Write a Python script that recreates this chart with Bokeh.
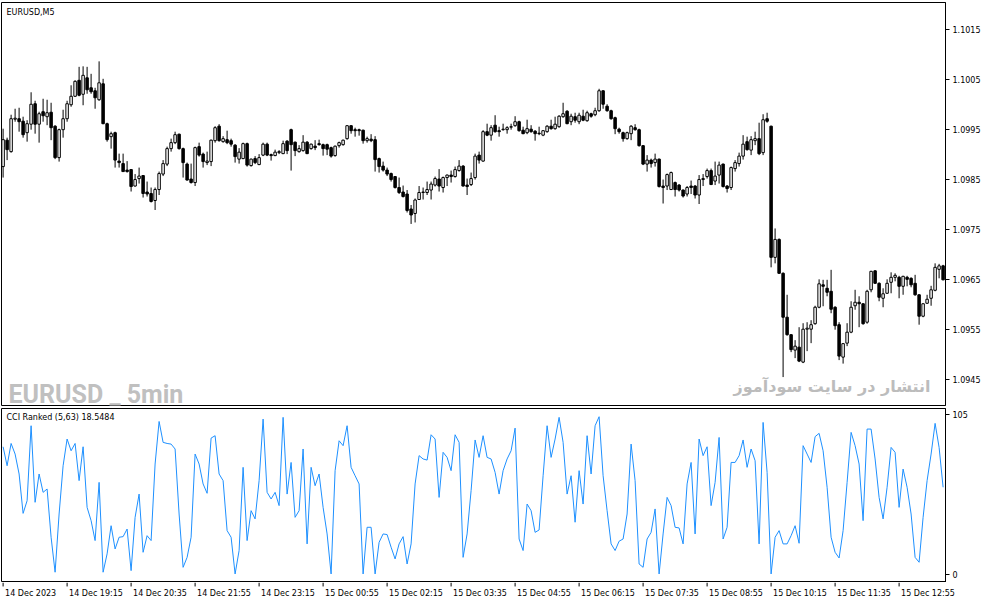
import numpy as np
from bokeh.plotting import figure
from bokeh.layouts import column
from bokeh.models import ColumnDataSource, Range1d, FixedTicker, Label, PrintfTickFormatter
from bokeh.core.properties import value
from bokeh.embed import file_html
from bokeh.resources import INLINE

# EURUSD M5 candles
opens = [1.09876, 1.09929, 1.09906, 1.09971, 1.09972, 1.09967, 1.09944, 1.09961, 1.10002, 1.09961,
         1.09986, 1.09976, 1.09985, 1.09957, 1.09894, 1.09950, 1.09972, 1.10000, 1.10017, 1.10049,
         1.10021, 1.10054, 1.10034, 1.10028, 1.10010, 1.10042, 1.09962, 1.09936, 1.09944, 1.09887,
         1.09882, 1.09869, 1.09870, 1.09837, 1.09852, 1.09858, 1.09825, 1.09822, 1.09808, 1.09830,
         1.09861, 1.09881, 1.09912, 1.09924, 1.09941, 1.09912, 1.09881, 1.09851, 1.09844, 1.09916,
         1.09901, 1.09884, 1.09886, 1.09928, 1.09957, 1.09926, 1.09930, 1.09928, 1.09919, 1.09891,
         1.09892, 1.09922, 1.09878, 1.09892, 1.09880, 1.09899, 1.09921, 1.09900, 1.09898, 1.09904,
         1.09902, 1.09927, 1.09950, 1.09925, 1.09906, 1.09908, 1.09925, 1.09912, 1.09917, 1.09922,
         1.09920, 1.09920, 1.09914, 1.09898, 1.09918, 1.09920, 1.09932, 1.09958, 1.09950, 1.09950,
         1.09949, 1.09928, 1.09931, 1.09930, 1.09892, 1.09877, 1.09869, 1.09862, 1.09856, 1.09834,
         1.09825, 1.09821, 1.09791, 1.09782, 1.09810, 1.09824, 1.09824, 1.09829, 1.09839, 1.09851,
         1.09834, 1.09854, 1.09859, 1.09856, 1.09868, 1.09877, 1.09839, 1.09840, 1.09854, 1.09899,
         1.09887, 1.09946, 1.09939, 1.09959, 1.09948, 1.09950, 1.09950, 1.09955, 1.09958, 1.09966,
         1.09949, 1.09944, 1.09951, 1.09947, 1.09943, 1.09939, 1.09946, 1.09957, 1.09952, 1.09956,
         1.09976, 1.09987, 1.09966, 1.09976, 1.09966, 1.09977, 1.09968, 1.09982, 1.09980, 1.09988,
         1.10028, 1.09997, 1.09988, 1.09974, 1.09951, 1.09944, 1.09932, 1.09942, 1.09954, 1.09950,
         1.09918, 1.09881, 1.09889, 1.09884, 1.09891, 1.09837, 1.09837, 1.09830, 1.09844, 1.09839,
         1.09829, 1.09821, 1.09837, 1.09837, 1.09819, 1.09850, 1.09856, 1.09868, 1.09847, 1.09859,
         1.09881, 1.09837, 1.09834, 1.09872, 1.09882, 1.09897, 1.09926, 1.09909, 1.09928, 1.09932,
         1.09904, 1.09972, 1.09957, 1.09694, 1.09730, 1.09662, 1.09574, 1.09539, 1.09508, 1.09514,
         1.09484, 1.09550, 1.09550, 1.09561, 1.09594, 1.09639, 1.09632, 1.09626, 1.09594, 1.09559,
         1.09494, 1.09522, 1.09544, 1.09597, 1.09604, 1.09601, 1.09564, 1.09629, 1.09667, 1.09642,
         1.09612, 1.09622, 1.09644, 1.09654, 1.09654, 1.09636, 1.09654, 1.09652, 1.09642, 1.09619,
         1.09576, 1.09602, 1.09612, 1.09628, 1.09670, 1.09677]
highs = [1.09952, 1.09934, 1.09980, 1.09992, 1.09994, 1.09976, 1.09969, 1.10025, 1.10008, 1.09986,
         1.10012, 1.10010, 1.10004, 1.09959, 1.09952, 1.09990, 1.10008, 1.10039, 1.10049, 1.10076,
         1.10077, 1.10076, 1.10062, 1.10034, 1.10087, 1.10052, 1.09964, 1.09946, 1.09946, 1.09902,
         1.09902, 1.09887, 1.09871, 1.09861, 1.09874, 1.09859, 1.09846, 1.09834, 1.09834, 1.09866,
         1.09889, 1.09916, 1.09932, 1.09946, 1.09942, 1.09914, 1.09884, 1.09882, 1.09916, 1.09924,
         1.09904, 1.09906, 1.09930, 1.09957, 1.09961, 1.09937, 1.09948, 1.09932, 1.09921, 1.09913,
         1.09924, 1.09924, 1.09892, 1.09897, 1.09901, 1.09924, 1.09924, 1.09902, 1.09910, 1.09909,
         1.09928, 1.09929, 1.09952, 1.09926, 1.09919, 1.09939, 1.09927, 1.09922, 1.09929, 1.09930,
         1.09922, 1.09922, 1.09916, 1.09918, 1.09926, 1.09930, 1.09959, 1.09959, 1.09954, 1.09952,
         1.09950, 1.09936, 1.09941, 1.09937, 1.09894, 1.09886, 1.09874, 1.09864, 1.09857, 1.09854,
         1.09838, 1.09829, 1.09799, 1.09812, 1.09837, 1.09834, 1.09846, 1.09846, 1.09856, 1.09871,
         1.09856, 1.09860, 1.09868, 1.09876, 1.09889, 1.09879, 1.09852, 1.09864, 1.09902, 1.09906,
         1.09949, 1.09962, 1.09959, 1.09979, 1.09956, 1.09962, 1.09957, 1.09962, 1.09977, 1.09968,
         1.09956, 1.09970, 1.09959, 1.09949, 1.09956, 1.09949, 1.09959, 1.09970, 1.09976, 1.09979,
         1.10004, 1.09989, 1.09982, 1.09984, 1.09984, 1.09990, 1.09988, 1.09984, 1.09994, 1.10032,
         1.10029, 1.10001, 1.09990, 1.09976, 1.09954, 1.09946, 1.09946, 1.09959, 1.09961, 1.09952,
         1.09919, 1.09899, 1.09892, 1.09902, 1.09892, 1.09850, 1.09862, 1.09866, 1.09846, 1.09841,
         1.09830, 1.09837, 1.09848, 1.09839, 1.09859, 1.09861, 1.09872, 1.09872, 1.09886, 1.09886,
         1.09882, 1.09839, 1.09876, 1.09889, 1.09904, 1.09939, 1.09936, 1.09937, 1.09946, 1.09964,
         1.09981, 1.09984, 1.09958, 1.09752, 1.09732, 1.09664, 1.09619, 1.09540, 1.09528, 1.09554,
         1.09562, 1.09564, 1.09568, 1.09597, 1.09650, 1.09649, 1.09649, 1.09669, 1.09596, 1.09564,
         1.09522, 1.09562, 1.09606, 1.09629, 1.09616, 1.09602, 1.09629, 1.09667, 1.09668, 1.09644,
         1.09632, 1.09650, 1.09664, 1.09662, 1.09657, 1.09657, 1.09657, 1.09654, 1.09659, 1.09620,
         1.09602, 1.09619, 1.09637, 1.09682, 1.09681, 1.09679]
lows = [1.09854, 1.09889, 1.09904, 1.09966, 1.09946, 1.09934, 1.09926, 1.09950, 1.09942, 1.09924,
        1.09966, 1.09959, 1.09929, 1.09891, 1.09886, 1.09934, 1.09966, 1.09996, 1.10016, 1.10017,
        1.09999, 1.10022, 1.10022, 1.09992, 1.10008, 1.09961, 1.09926, 1.09912, 1.09874, 1.09874,
        1.09866, 1.09864, 1.09826, 1.09836, 1.09842, 1.09814, 1.09816, 1.09804, 1.09789, 1.09819,
        1.09857, 1.09877, 1.09906, 1.09921, 1.09910, 1.09854, 1.09848, 1.09842, 1.09837, 1.09896,
        1.09874, 1.09879, 1.09877, 1.09924, 1.09926, 1.09924, 1.09921, 1.09916, 1.09884, 1.09882,
        1.09891, 1.09876, 1.09876, 1.09881, 1.09879, 1.09897, 1.09897, 1.09888, 1.09897, 1.09901,
        1.09901, 1.09901, 1.09868, 1.09897, 1.09904, 1.09906, 1.09901, 1.09910, 1.09909, 1.09918,
        1.09898, 1.09899, 1.09894, 1.09896, 1.09914, 1.09918, 1.09930, 1.09942, 1.09936, 1.09938,
        1.09922, 1.09924, 1.09925, 1.09866, 1.09864, 1.09866, 1.09857, 1.09846, 1.09832, 1.09821,
        1.09814, 1.09784, 1.09761, 1.09764, 1.09809, 1.09810, 1.09819, 1.09810, 1.09836, 1.09826,
        1.09824, 1.09837, 1.09844, 1.09854, 1.09866, 1.09836, 1.09819, 1.09837, 1.09850, 1.09882,
        1.09886, 1.09937, 1.09928, 1.09944, 1.09936, 1.09948, 1.09942, 1.09950, 1.09956, 1.09946,
        1.09941, 1.09941, 1.09944, 1.09928, 1.09939, 1.09937, 1.09944, 1.09950, 1.09950, 1.09954,
        1.09974, 1.09961, 1.09959, 1.09964, 1.09961, 1.09967, 1.09966, 1.09974, 1.09977, 1.09986,
        1.09992, 1.09986, 1.09970, 1.09941, 1.09942, 1.09926, 1.09930, 1.09929, 1.09948, 1.09916,
        1.09879, 1.09866, 1.09874, 1.09876, 1.09834, 1.09802, 1.09829, 1.09829, 1.09816, 1.09826,
        1.09814, 1.09816, 1.09821, 1.09812, 1.09801, 1.09837, 1.09852, 1.09839, 1.09839, 1.09842,
        1.09834, 1.09824, 1.09829, 1.09866, 1.09876, 1.09890, 1.09908, 1.09899, 1.09919, 1.09899,
        1.09899, 1.09964, 1.09674, 1.09682, 1.09661, 1.09454, 1.09537, 1.09504, 1.09492, 1.09484,
        1.09482, 1.09506, 1.09522, 1.09559, 1.09592, 1.09596, 1.09616, 1.09582, 1.09549, 1.09488,
        1.09481, 1.09516, 1.09542, 1.09589, 1.09554, 1.09559, 1.09561, 1.09624, 1.09641, 1.09606,
        1.09594, 1.09621, 1.09622, 1.09646, 1.09612, 1.09619, 1.09636, 1.09634, 1.09617, 1.09559,
        1.09574, 1.09601, 1.09597, 1.09626, 1.09652, 1.09648]
closes = [1.09930, 1.09910, 1.09972, 1.09973, 1.09966, 1.09940, 1.09962, 1.10001, 1.09961, 1.09982,
          1.09978, 1.09984, 1.09954, 1.09894, 1.09950, 1.09972, 1.10002, 1.10017, 1.10047, 1.10019,
          1.10059, 1.10030, 1.10026, 1.10014, 1.10044, 1.09962, 1.09930, 1.09942, 1.09889, 1.09884,
          1.09866, 1.09866, 1.09836, 1.09850, 1.09857, 1.09822, 1.09821, 1.09806, 1.09830, 1.09862,
          1.09882, 1.09912, 1.09924, 1.09940, 1.09912, 1.09884, 1.09849, 1.09844, 1.09914, 1.09899,
          1.09886, 1.09887, 1.09929, 1.09954, 1.09928, 1.09932, 1.09924, 1.09921, 1.09896, 1.09905,
          1.09922, 1.09879, 1.09891, 1.09884, 1.09894, 1.09921, 1.09899, 1.09898, 1.09905, 1.09906,
          1.09922, 1.09908, 1.09920, 1.09908, 1.09912, 1.09925, 1.09902, 1.09921, 1.09914, 1.09920,
          1.09912, 1.09911, 1.09897, 1.09917, 1.09924, 1.09929, 1.09958, 1.09948, 1.09948, 1.09948,
          1.09928, 1.09932, 1.09928, 1.09890, 1.09876, 1.09869, 1.09861, 1.09850, 1.09834, 1.09824,
          1.09816, 1.09788, 1.09779, 1.09809, 1.09824, 1.09825, 1.09830, 1.09841, 1.09852, 1.09837,
          1.09854, 1.09859, 1.09856, 1.09870, 1.09877, 1.09837, 1.09836, 1.09852, 1.09897, 1.09889,
          1.09946, 1.09939, 1.09954, 1.09946, 1.09946, 1.09951, 1.09954, 1.09956, 1.09966, 1.09948,
          1.09942, 1.09952, 1.09946, 1.09942, 1.09942, 1.09948, 1.09957, 1.09952, 1.09961, 1.09977,
          1.09982, 1.09962, 1.09977, 1.09969, 1.09979, 1.09969, 1.09984, 1.09977, 1.09988, 1.10028,
          1.10001, 1.09988, 1.09972, 1.09952, 1.09946, 1.09932, 1.09944, 1.09957, 1.09950, 1.09918,
          1.09881, 1.09889, 1.09882, 1.09891, 1.09836, 1.09834, 1.09860, 1.09864, 1.09830, 1.09829,
          1.09817, 1.09834, 1.09834, 1.09819, 1.09850, 1.09852, 1.09868, 1.09840, 1.09857, 1.09879,
          1.09836, 1.09832, 1.09874, 1.09884, 1.09897, 1.09921, 1.09910, 1.09930, 1.09932, 1.09902,
          1.09970, 1.09967, 1.09694, 1.09730, 1.09662, 1.09574, 1.09539, 1.09509, 1.09516, 1.09486,
          1.09550, 1.09552, 1.09559, 1.09594, 1.09641, 1.09636, 1.09624, 1.09590, 1.09557, 1.09496,
          1.09521, 1.09544, 1.09594, 1.09604, 1.09601, 1.09561, 1.09626, 1.09666, 1.09642, 1.09614,
          1.09621, 1.09642, 1.09654, 1.09658, 1.09636, 1.09656, 1.09650, 1.09639, 1.09619, 1.09576,
          1.09601, 1.09610, 1.09629, 1.09674, 1.09677, 1.09649]

# CCI Ranked (5,63), one value per bar
cci = [80.8, 68.8, 82.9, 76.2, 63.6, 38.7, 46.7, 94.1, 45.7, 63.6,
       52.0, 54.1, 23.6, 1.5, 38.3, 68.8, 85.7, 78.3, 82.9, 59.4,
       80.8, 42.5, 34.1, 21.5, 58.3, 1.5, 13.1, 30.9, 16.2, 23.6,
       24.0, 28.8, 2.5, 36.2, 50.9, 14.1, 24.6, 21.5, 69.9, 96.8,
       83.6, 82.9, 82.5, 79.4, 38.3, 4.6, 10.9, 23.6, 76.2, 69.9,
       57.3, 51.4, 86.3, 87.8, 63.6, 59.4, 27.8, 23.6, 0.4, 15.2,
       67.8, 21.5, 40.4, 35.2, 59.4, 98.3, 52.0, 47.8, 52.0, 43.6,
       99.4, 50.9, 70.9, 36.2, 40.4, 79.4, 19.4, 67.8, 56.2, 63.6,
       42.5, 25.7, 0.4, 65.7, 84.6, 81.5, 94.1, 67.8, 62.5, 57.3,
       0.4, 29.9, 29.9, 0.4, 20.4, 25.7, 25.3, 17.3, 9.9, 19.4,
       24.0, 6.7, 19.4, 57.3, 75.2, 73.1, 72.4, 88.4, 85.7, 48.8,
       77.3, 74.1, 65.7, 88.4, 83.6, 10.9, 25.7, 53.1, 85.1, 74.1,
       87.8, 74.1, 73.1, 64.6, 50.9, 65.7, 73.1, 78.3, 92.6, 22.5,
       15.2, 44.6, 40.4, 26.7, 28.2, 62.5, 94.1, 74.1, 85.7, 99.4,
       83.6, 50.9, 62.5, 33.1, 65.7, 44.6, 87.8, 63.6, 94.1, 99.8,
       62.5, 40.4, 19.4, 15.2, 21.1, 22.5, 38.3, 82.5, 59.4, 6.7,
       4.6, 22.5, 26.7, 41.5, 0.4, 25.7, 48.8, 43.6, 29.9, 29.5,
       19.4, 57.3, 70.9, 25.7, 85.7, 75.2, 80.8, 43.6, 58.3, 86.7,
       22.5, 29.9, 70.9, 70.9, 75.2, 85.1, 67.8, 79.4, 72.0, 19.4,
       96.2, 64.6, 0.4, 23.6, 27.8, 19.4, 19.4, 24.6, 30.9, 19.8,
       81.5, 76.2, 70.9, 87.2, 89.3, 78.3, 55.2, 23.6, 14.1, 10.5,
       27.8, 58.3, 89.9, 81.5, 69.9, 34.1, 92.0, 92.0, 73.1, 48.8,
       35.2, 55.2, 80.4, 77.3, 42.5, 66.7, 55.2, 38.3, 10.9, 7.8,
       36.2, 59.4, 76.2, 95.6, 80.4, 55.2]

time_labels = ["14 Dec 2023", "14 Dec 19:15", "14 Dec 20:35", "14 Dec 21:55", "14 Dec 23:15",
               "15 Dec 00:55", "15 Dec 02:15", "15 Dec 03:35", "15 Dec 04:55", "15 Dec 06:15",
               "15 Dec 07:35", "15 Dec 08:55", "15 Dec 10:15", "15 Dec 11:35", "15 Dec 12:55"]
bars_per_label = 16
price_ticks = [1.0945, 1.0955, 1.0965, 1.0975, 1.0985, 1.0995, 1.1005, 1.1015]
price_lo, price_hi = 1.09397, 1.10205
cci_lo, cci_hi = -5, 105
cci_tick_labels = {101.0: "105", 0.0: "0"}

FONT = "DejaVu Sans"
FW = 944

o = np.array(opens)
c = np.array(closes)
bars = np.arange(len(opens))
src = ColumnDataSource(dict(
    x=bars, high=highs, low=lows,
    top=np.maximum(o, c), bottom=np.minimum(o, c),
    fill=np.where(c >= o, "white", "black"),
))

x_range = Range1d(-0.4, len(bars) - 0.4)


def mt_style(p):
    p.outline_line_color = "black"
    p.outline_line_width = 1
    p.grid.visible = False
    p.background_fill_color = "white"
    p.border_fill_color = "white"


def right_axis(ax):
    ax.major_tick_in = 0
    ax.major_tick_out = 4
    ax.minor_tick_in = 0
    ax.minor_tick_out = 0
    ax.axis_line_color = "black"
    ax.major_label_text_font = FONT
    ax.major_label_text_font_size = "8px"
    ax.major_label_text_color = "black"
    ax.major_label_standoff = 3


# price window
p = figure(frame_width=FW, frame_height=403, x_range=x_range,
           y_range=Range1d(price_lo, price_hi), output_backend="svg",
           toolbar_location=None, x_axis_location=None, y_axis_location="right",
           min_border_left=1, min_border_right=2, min_border_top=2, min_border_bottom=2)
mt_style(p)
right_axis(p.yaxis[0])
p.yaxis[0].ticker = FixedTicker(ticks=price_ticks)
p.yaxis[0].formatter = PrintfTickFormatter(format="%.4f")

p.segment(x0="x", y0="low", x1="x", y1="high", source=src, line_color="black", line_width=1)
p.vbar(x="x", top="top", bottom="bottom", width=0.62, source=src,
       fill_color="fill", line_color="black", line_width=1)

p.add_layout(Label(x=x_range.start, y=price_hi, x_offset=5, y_offset=-10, text="EURUSD,M5",
                   text_font=FONT, text_font_size="8px", text_color="black",
                   text_baseline="middle"))
# grey watermarks
p.add_layout(Label(x=x_range.start, y=price_lo, x_offset=7, y_offset=11, text="EURUSD _ 5min",
                   text_font="Roboto", text_font_style="bold", text_font_size="25px",
                   text_color="#c0c0c0", text_baseline="alphabetic"))
p.add_layout(Label(x=x_range.end, y=price_lo, x_offset=-15, y_offset=19,
                   text="انتشار در سایت سودآموز", text_font=FONT, text_font_style="bold",
                   text_font_size="16px", text_color="#bcbcbc", text_align="right",
                   text_baseline="middle"))

# indicator window
q = figure(frame_width=FW, frame_height=174, x_range=x_range,
           y_range=Range1d(cci_lo, cci_hi), output_backend="svg",
           toolbar_location=None, x_axis_location=None, y_axis_location="right",
           min_border_left=1, min_border_right=2, min_border_top=1, min_border_bottom=0)
mt_style(q)
right_axis(q.yaxis[0])
q.yaxis[0].ticker = FixedTicker(ticks=list(cci_tick_labels))
q.yaxis[0].major_label_overrides = cci_tick_labels
q.line(bars, cci, line_color="#1E90FF", line_width=1)
q.add_layout(Label(x=x_range.start, y=cci_hi, x_offset=5, y_offset=-9,
                   text="CCI Ranked (5,63) 18.5484", text_font=FONT, text_font_size="8px",
                   text_color="black", text_baseline="middle"))

# time scale strip under the indicator
SW = 984
span = x_range.end - x_range.start
t = figure(frame_width=SW, frame_height=22,
           x_range=Range1d(x_range.start, x_range.start + span * SW / FW),
           y_range=Range1d(0, 1), output_backend="svg", toolbar_location=None,
           x_axis_location=None, y_axis_location=None,
           min_border_left=1, min_border_right=0, min_border_top=0, min_border_bottom=0)
t.outline_line_color = None
t.grid.visible = False
tick_src = ColumnDataSource(dict(
    x=[k * bars_per_label for k in range(len(time_labels))],
    text=time_labels,
))
t.segment(x0="x", y0=1, x1="x", y1=0.82, source=tick_src, line_color="black", line_width=1)
t.text(x="x", y=0.5, text="text", source=tick_src, x_offset=2,
       text_font=value(FONT), text_font_size="8px", text_color="black",
       text_align="left", text_baseline="middle")

layout = column(p, q, t)
open("out.html", "w").write(file_html(layout, INLINE))
